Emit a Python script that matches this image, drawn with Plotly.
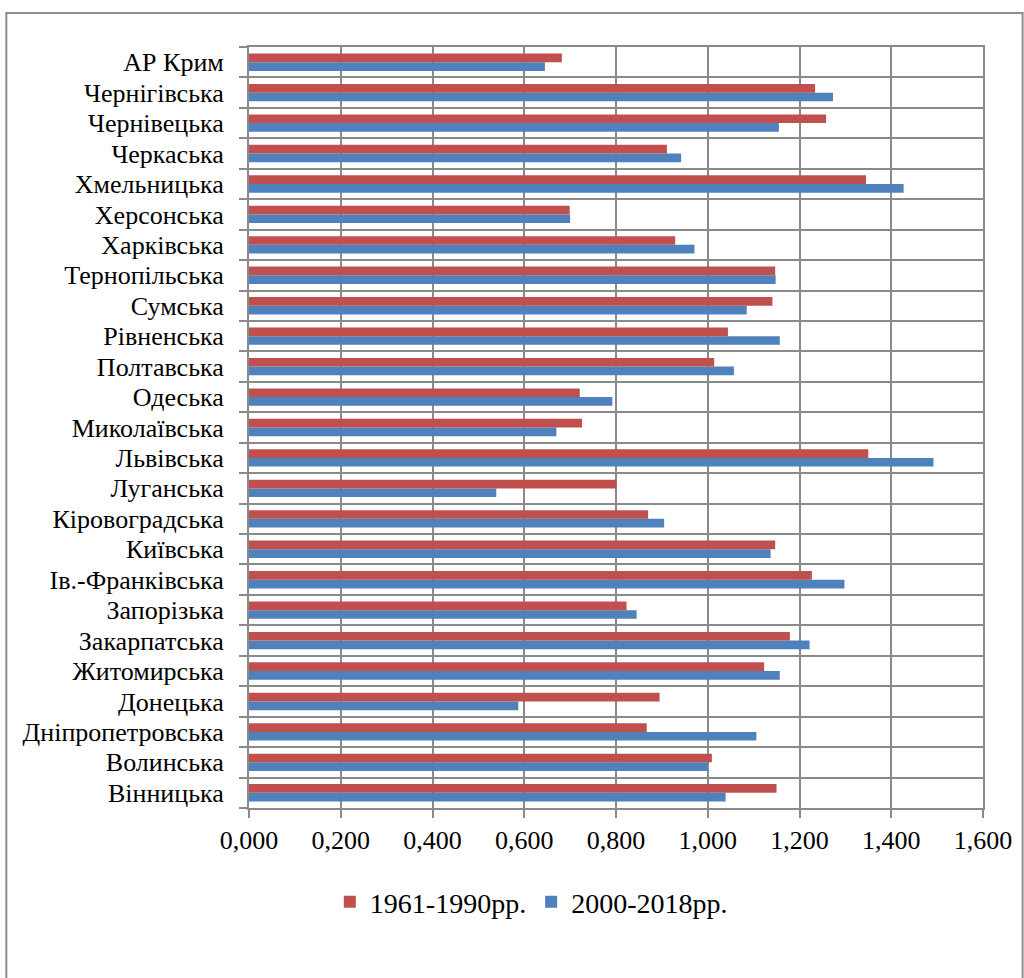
import plotly.graph_objects as go

# Regions, listed bottom to top as they appear on the category axis
regions = [
    "Вінницька", "Волинська", "Дніпропетровська", "Донецька", "Житомирська",
    "Закарпатська", "Запорізька", "Ів.-Франківська", "Київська", "Кіровоградська",
    "Луганська", "Львівська", "Миколаївська", "Одеська", "Полтавська",
    "Рівненська", "Сумська", "Тернопільська", "Харківська", "Херсонська",
    "Хмельницька", "Черкаська", "Чернівецька", "Чернігівська", "АР Крим",
]

period_1961_1990 = [
    1.150, 1.009, 0.867, 0.895, 1.123,
    1.179, 0.823, 1.227, 1.147, 0.870,
    0.801, 1.350, 0.726, 0.721, 1.014,
    1.044, 1.141, 1.147, 0.929, 0.699,
    1.345, 0.911, 1.258, 1.234, 0.682,
]

period_2000_2018 = [
    1.039, 1.000, 1.106, 0.587, 1.157,
    1.222, 0.845, 1.298, 1.137, 0.905,
    0.539, 1.492, 0.670, 0.792, 1.057,
    1.157, 1.085, 1.148, 0.971, 0.700,
    1.427, 0.942, 1.155, 1.273, 0.645,
]

series_names = ["1961-1990рр.", "2000-2018рр."]
tick_values = [0.0, 0.2, 0.4, 0.6, 0.8, 1.0, 1.2, 1.4, 1.6]
tick_labels = ["0,000", "0,200", "0,400", "0,600", "0,800",
               "1,000", "1,200", "1,400", "1,600"]

RED = "#C0504D"
BLUE = "#4F81BD"
GRID = "#8a8a8a"
FONT = "Liberation Serif, Times New Roman, serif"

fig = go.Figure()
# Blue first so the red bar sits above it within each group
fig.add_trace(go.Bar(
    y=regions, x=period_2000_2018, orientation="h", name=series_names[1],
    marker=dict(color=BLUE, line=dict(width=0)),
))
fig.add_trace(go.Bar(
    y=regions, x=period_1961_1990, orientation="h", name=series_names[0],
    marker=dict(color=RED, line=dict(width=0)),
))

W, H = 1024, 978
L, R, T, B = 249, 34, 47, 170
pw, ph = W - L - R, H - T - B


def px_x(v):
    return (v - L) / pw


def px_y(v):
    return (H - B - v) / ph


fig.update_layout(
    width=W, height=H,
    margin=dict(l=L, r=R, t=T, b=B, pad=0),
    paper_bgcolor="white", plot_bgcolor="white",
    barmode="group", bargap=0.43, bargroupgap=0,
    font=dict(family=FONT, size=26, color="black"),
    showlegend=True,
    legend=dict(
        orientation="h", traceorder="reversed",
        x=px_x(534), xanchor="center", y=px_y(902), yanchor="middle",
        font=dict(family=FONT, size=28, color="black"),
        itemwidth=30, bgcolor="rgba(0,0,0,0)",
    ),
    xaxis=dict(
        range=[0, 1.6], tickvals=tick_values, ticktext=tick_labels,
        showgrid=True, gridcolor=GRID, gridwidth=2,
        showline=True, linecolor=GRID, linewidth=2, mirror=True,
        ticks="outside", ticklen=8, tickcolor=GRID, tickwidth=2,
        tickfont=dict(family=FONT, size=26), zeroline=False,
        ticklabelstandoff=0, fixedrange=True,
    ),
    yaxis=dict(
        type="category", tickson="boundaries",
        tickmode="linear", tick0=0, dtick=1,
        showgrid=True, gridcolor=GRID, gridwidth=2,
        showline=True, linecolor=GRID, linewidth=2, mirror=True,
        ticks="outside", ticklen=8, tickcolor=GRID, tickwidth=2,
        tickfont=dict(family=FONT, size=26), ticklabelstandoff=18,
        fixedrange=True,
    ),
    shapes=[dict(
        type="rect", xref="paper", yref="paper",
        x0=px_x(4), x1=px_x(1030), y0=px_y(990), y1=px_y(13),
        line=dict(color="#8c8c8c", width=2), fillcolor="rgba(0,0,0,0)",
        layer="below",
    )],
)

fig.write_html("out.html")
